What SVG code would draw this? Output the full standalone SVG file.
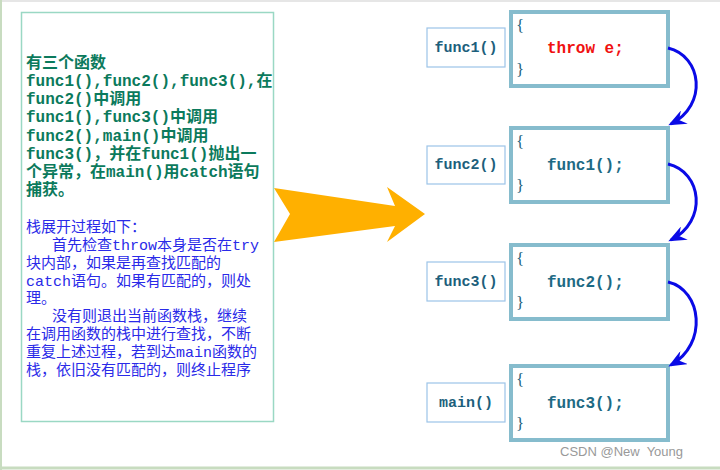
<svg xmlns="http://www.w3.org/2000/svg" width="720" height="470" viewBox="0 0 720 470">
<style>
.g{font-family:"Liberation Mono","Noto Sans CJK SC",monospace;font-size:16px;font-weight:bold;fill:#0b7a5c}
.b{font-family:"Liberation Mono","Noto Sans CJK SC",monospace;font-size:15px;fill:#2a2ae8}
.lbl{fill:#fff;stroke:#9cc4e8;stroke-width:1.2}
.lt{font-family:"Liberation Mono",monospace;font-size:15px;font-weight:bold;fill:#1d5f7c;text-anchor:middle}
.cb{fill:#fff;stroke:#86bccd;stroke-width:4}
.br{font-family:"Liberation Serif",serif;font-size:17px;fill:#1d5f7c}
.ct{font-family:"Liberation Mono",monospace;font-size:16px;font-weight:bold;fill:#1d6a84}
.arr{fill:none;stroke:#0a0ae6;stroke-width:3}
</style>
<defs>
<marker id="ah" viewBox="0 0 12 10" refX="10" refY="5" markerWidth="6" markerHeight="5" orient="auto" markerUnits="strokeWidth">
<path d="M0,0 L12,5 L0,10 L4,5 Z" fill="#0a0ae6"/>
</marker>
</defs>
<rect width="720" height="470" fill="#fff"/>
<line x1="0" y1="1" x2="720" y2="1" stroke="#e6e6e6" stroke-width="2"/>
<line x1="1" y1="0" x2="1" y2="470" stroke="#c8dcc0" stroke-width="2"/>
<line x1="0" y1="468" x2="720" y2="468" stroke="#c8dcc0" stroke-width="3"/>
<g id="text-panel">
<rect x="21.5" y="12.5" width="252" height="409" fill="#fff" stroke="#9ad8c4" stroke-width="1.5"/>
<text class="g" x="26" y="68">有三个函数</text>
<text class="g" x="26" y="86">func1(),func2(),func3(),在</text>
<text class="g" x="26" y="104">func2()中调用</text>
<text class="g" x="26" y="122">func1(),func3()中调用</text>
<text class="g" x="26" y="141">func2(),main()中调用</text>
<text class="g" x="26" y="159">func3()，并在func1()抛出一</text>
<text class="g" x="26" y="177">个异常，在main()用catch语句</text>
<text class="g" x="26" y="195">捕获。</text>
<text class="b" x="26" y="232">栈展开过程如下：</text>
<text class="b" x="52" y="250">首先检查throw本身是否在try</text>
<text class="b" x="26" y="268">块内部，如果是再查找匹配的</text>
<text class="b" x="26" y="286">catch语句。如果有匹配的，则处</text>
<text class="b" x="26" y="303">理。</text>
<text class="b" x="52" y="321">没有则退出当前函数栈，继续</text>
<text class="b" x="26" y="339">在调用函数的栈中进行查找，不断</text>
<text class="b" x="26" y="357">重复上述过程，若到达main函数的</text>
<text class="b" x="26" y="375">栈，依旧没有匹配的，则终止程序</text>
</g>
<g id="big-arrow">
<polygon points="274,188 395,206 387,187 425,214 387,242 395,226 274,242 290,214" fill="#ffb000"/>
</g>
<g id="func1">
<rect class="lbl" x="427" y="28" width="78" height="39"/>
<text class="lt" x="466" y="52">func1()</text>
<rect class="cb" x="511" y="12" width="157" height="74"/>
<text class="br" x="516" y="31">{</text>
<text class="ct" x="547" y="53" style="fill:#f01010">throw e;</text>
<text class="br" x="516" y="75">}</text>
</g>
<g id="func2">
<rect class="lbl" x="427" y="146" width="78" height="38"/>
<text class="lt" x="466" y="169">func2()</text>
<rect class="cb" x="511" y="128" width="157" height="74"/>
<text class="br" x="516" y="147">{</text>
<text class="ct" x="547" y="170">func1();</text>
<text class="br" x="516" y="191">}</text>
</g>
<g id="func3">
<rect class="lbl" x="427" y="262" width="78" height="39"/>
<text class="lt" x="466" y="286">func3()</text>
<rect class="cb" x="511" y="245" width="157" height="74"/>
<text class="br" x="516" y="264">{</text>
<text class="ct" x="547" y="287">func2();</text>
<text class="br" x="516" y="308">}</text>
</g>
<g id="main">
<rect class="lbl" x="427" y="383" width="78" height="39"/>
<text class="lt" x="466" y="407">main()</text>
<rect class="cb" x="511" y="366" width="157" height="74"/>
<text class="br" x="516" y="385">{</text>
<text class="ct" x="547" y="408">func3();</text>
<text class="br" x="516" y="429">}</text>
</g>
<g id="connectors">
<path class="arr" d="M668,48 C702,56 708,105 671,124" marker-end="url(#ah)"/>
<path class="arr" d="M668,164 C702,172 708,221 671,240" marker-end="url(#ah)"/>
<path class="arr" d="M668,282 C702,290 708,344 671,365" marker-end="url(#ah)"/>
</g>
<text x="560" y="456" font-family="Liberation Sans,sans-serif" font-size="13" fill="#999" xml:space="preserve">CSDN @New  Young</text>
</svg>
